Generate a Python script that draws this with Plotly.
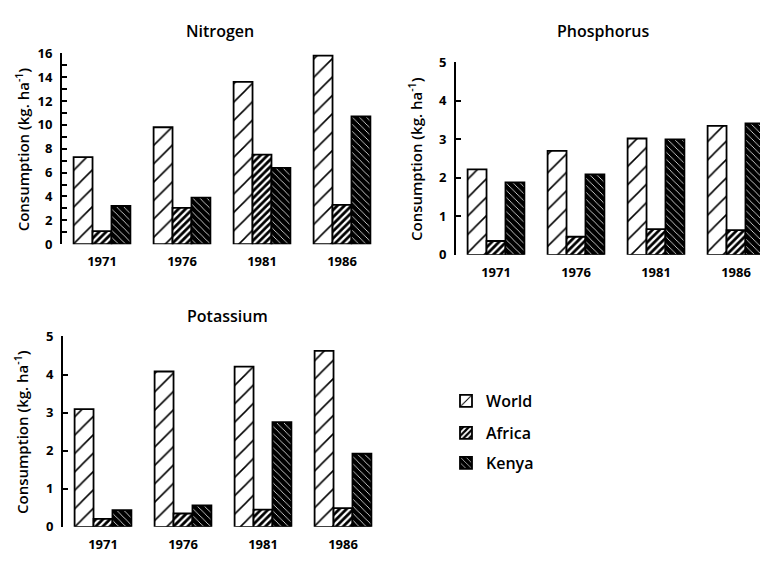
import plotly.graph_objects as go

# Fertiliser consumption (kg per hectare) by region and year
years = ["1971", "1976", "1981", "1986"]
regions = ["World", "Africa", "Kenya"]

nitrogen_world = [7.3, 9.8, 13.6, 15.8]
nitrogen_africa = [1.1, 3.05, 7.5, 3.3]
nitrogen_kenya = [3.2, 3.9, 6.4, 10.7]

phosphorus_world = [2.22, 2.7, 3.02, 3.35]
phosphorus_africa = [0.36, 0.47, 0.67, 0.64]
phosphorus_kenya = [1.88, 2.09, 3.0, 3.41]

potassium_world = [3.09, 4.08, 4.21, 4.62]
potassium_africa = [0.21, 0.35, 0.45, 0.49]
potassium_kenya = [0.44, 0.56, 2.75, 1.92]

W, H = 760, 561
FONT = "Open Sans"

patterns = {
    "World": dict(shape="/", bgcolor="white", fgcolor="black", fgopacity=1,
                  size=13, solidity=0.12),
    "Africa": dict(shape="/", bgcolor="black", fgcolor="white", fgopacity=1,
                   size=5, solidity=0.45),
    "Kenya": dict(shape="\\", bgcolor="black", fgcolor="white", fgopacity=1,
                  size=5, solidity=0.15),
}
legend_ids = {"World": "legend", "Africa": "legend2", "Kenya": "legend3"}

panels = [
    ("Nitrogen", "x", "y", [nitrogen_world, nitrogen_africa, nitrogen_kenya]),
    ("Phosphorus", "x2", "y2", [phosphorus_world, phosphorus_africa, phosphorus_kenya]),
    ("Potassium", "x3", "y3", [potassium_world, potassium_africa, potassium_kenya]),
]

fig = go.Figure()
for p_i, (name, xa, ya, series) in enumerate(panels):
    for region, vals in zip(regions, series):
        fig.add_trace(go.Bar(
            x=years, y=vals, name=region, xaxis=xa, yaxis=ya,
            legendgroup=region, showlegend=(p_i == 0),
            legend=legend_ids[region],
            marker=dict(color="white", line=dict(color="black", width=1.8),
                        pattern=patterns[region]),
        ))


def px_x(p):
    return p / W


def px_y(p):
    return (H - p) / H


tick_font = dict(family=FONT, size=13, color="black", weight="bold")
common_y = dict(showline=True, linecolor="black", linewidth=2, ticks="inside",
                ticklen=5, tickwidth=2, tickcolor="black", showgrid=False,
                zeroline=False, tickfont=tick_font, ticklabelstandoff=5)
common_x = dict(showline=False, ticks="", showgrid=False, zeroline=False,
                tickfont=tick_font, type="category", ticklabelstandoff=8)

fig.update_layout(
    width=W, height=H, margin=dict(l=0, r=0, t=0, b=0),
    paper_bgcolor="white", plot_bgcolor="white",
    barmode="group", bargap=0.29, bargroupgap=0,
    font=dict(family=FONT, color="black"),
    xaxis=dict(domain=[px_x(62), px_x(382)], range=[-0.5, 3.5], anchor="y", **common_x),
    yaxis=dict(domain=[px_y(243), px_y(45.7)], range=[0, 16], dtick=2, anchor="x",
               minor=dict(dtick=1, ticks="inside", ticklen=5, tickwidth=2, tickcolor="black"),
               **common_y),
    xaxis2=dict(domain=[px_x(456), 1.0], range=[-0.5, 3.3], anchor="y2", **common_x),
    yaxis2=dict(domain=[px_y(254), px_y(55)], range=[0, 5], dtick=1, anchor="x2", **common_y),
    xaxis3=dict(domain=[px_x(63), px_x(383)], range=[-0.5, 3.5], anchor="y3", **common_x),
    yaxis3=dict(domain=[px_y(535), px_y(338.3)], range=[0, 5], dtick=1, anchor="x3", **common_y),
)

legend_style = dict(font=dict(family=FONT, size=16, color="black", weight=600),
                    bgcolor="rgba(0,0,0,0)", xanchor="left", yanchor="middle",
                    itemclick=False, itemdoubleclick=False)
fig.update_layout(
    legend=dict(x=px_x(446), y=px_y(405), **legend_style),
    legend2=dict(x=px_x(446), y=px_y(438), **legend_style),
    legend3=dict(x=px_x(446), y=px_y(469), **legend_style),
)

# Panel titles
title_font = dict(family=FONT, size=16, color="black", weight=600)
for text, cx, cy in [("Nitrogen", 220, 23), ("Phosphorus", 603, 23), ("Potassium", 227, 317)]:
    fig.add_annotation(text=text, x=px_x(cx), y=px_y(cy), xref="paper", yref="paper",
                       showarrow=False, font=title_font, xanchor="center", yanchor="middle")

# Y-axis titles
ytitle = "Consumption (kg. ha<sup>-1</sup>)"
ytitle_font = dict(family=FONT, size=15, color="black", weight=600)
for cx, cy in [(22, 145), (415, 155), (22, 437)]:
    fig.add_annotation(text=ytitle, x=px_x(cx), y=px_y(cy), xref="paper", yref="paper",
                       showarrow=False, textangle=-90, font=ytitle_font,
                       xanchor="center", yanchor="middle")

fig.write_html("out.html")
